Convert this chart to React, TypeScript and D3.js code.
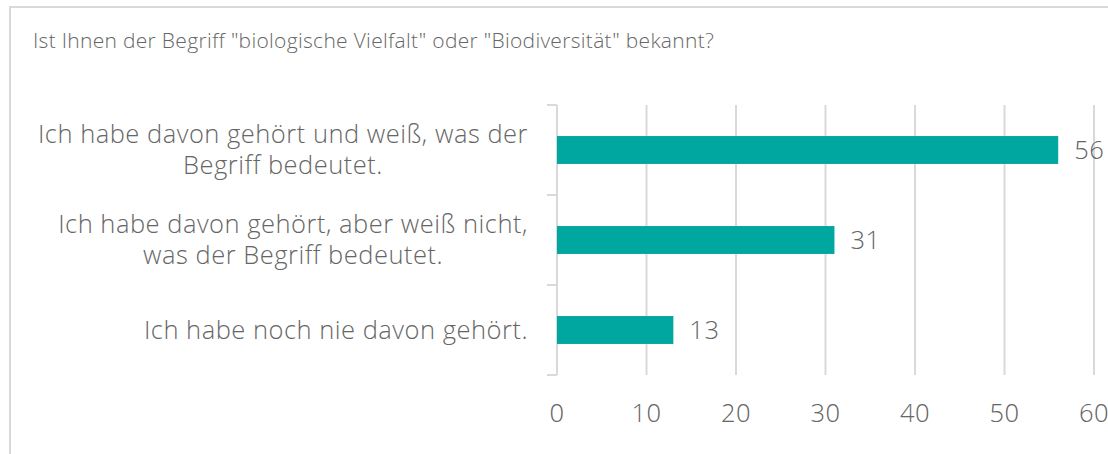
import React, { useEffect, useRef } from "react";
import * as d3 from "d3";

const title = 'Ist Ihnen der Begriff "biologische Vielfalt" oder "Biodiversität" bekannt?';
const categories = [
  ["Ich habe davon gehört und weiß, was der", "Begriff bedeutet."],
  ["Ich habe davon gehört, aber weiß nicht,", "was der Begriff bedeutet."],
  ["Ich habe noch nie davon gehört."],
];
const values = [56, 31, 13];
const ticks = [0, 10, 20, 30, 40, 50, 60];

const FONT = "'Open Sans Light', 'Open Sans', sans-serif";
const TEXT = "#666666";
const GRID = "#d9d9d9";
const BAR = "#00a6a0";

function App() {
  const ref = useRef<SVGSVGElement>(null);

  useEffect(() => {
    const svg = d3.select(ref.current);
    svg.selectAll("*").remove();

    const left = 557, right = 1094, top = 105, bottom = 375;
    const x = d3.scaleLinear().domain([0, 60]).range([left, right]);
    const keys = categories.map((c, i) => String(i));
    const y = d3.scaleBand().domain(keys).range([top, bottom]).paddingInner(0.69).paddingOuter(0.345);

    // chart frame
    svg.append("rect")
      .attr("x", 10).attr("y", 7).attr("width", 1300).attr("height", 600)
      .attr("fill", "white").attr("stroke", GRID).attr("stroke-width", 2);

    svg.append("text")
      .attr("x", 33).attr("y", 48)
      .attr("font-family", FONT).attr("font-weight", 300).attr("font-size", 21)
      .attr("letter-spacing", 0.3)
      .attr("fill", TEXT)
      .text(title);

    // vertical gridlines
    svg.selectAll(".grid")
      .data(ticks.slice(1))
      .enter().append("line")
      .attr("x1", d => x(d)).attr("x2", d => x(d))
      .attr("y1", top).attr("y2", bottom)
      .attr("stroke", GRID).attr("stroke-width", 2);

    // category axis with ticks on band borders
    svg.append("line")
      .attr("x1", left).attr("x2", left).attr("y1", top).attr("y2", bottom)
      .attr("stroke", GRID).attr("stroke-width", 2);
    const borders = d3.range(categories.length + 1).map(i => top + i * y.step());
    svg.selectAll(".ytick")
      .data(borders)
      .enter().append("line")
      .attr("x1", left - 10).attr("x2", left)
      .attr("y1", d => d).attr("y2", d => d)
      .attr("stroke", GRID).attr("stroke-width", 2);

    // bars
    svg.selectAll(".bar")
      .data(values)
      .enter().append("rect")
      .attr("x", x(0))
      .attr("y", (d, i) => y(String(i)) as number)
      .attr("width", d => x(d) - x(0))
      .attr("height", y.bandwidth())
      .attr("fill", BAR);

    // value labels
    svg.selectAll(".val")
      .data(values)
      .enter().append("text")
      .attr("x", d => x(d) + 16)
      .attr("y", (d, i) => (y(String(i)) as number) + y.bandwidth() / 2)
      .attr("dy", "0.35em")
      .attr("font-family", FONT).attr("font-weight", 300).attr("font-size", 25.5)
      .attr("letter-spacing", 0.5)
      .attr("fill", TEXT)
      .text(d => d);

    // x tick labels
    svg.selectAll(".xt")
      .data(ticks)
      .enter().append("text")
      .attr("x", d => x(d))
      .attr("y", 413)
      .attr("dy", "0.35em")
      .attr("text-anchor", "middle")
      .attr("font-family", FONT).attr("font-weight", 300).attr("font-size", 25.5)
      .attr("letter-spacing", 0.5)
      .attr("fill", TEXT)
      .text(d => d);

    // category labels: block right-aligned, lines centered
    const labelRight = 528, lineH = 31;
    categories.forEach((lines, i) => {
      const cy = (y(String(i)) as number) + y.bandwidth() / 2;
      const g = svg.append("g");
      const texts = lines.map((line, j) =>
        g.append("text")
          .attr("y", cy + (j - (lines.length - 1) / 2) * lineH)
          .attr("dy", "0.35em")
          .attr("text-anchor", "middle")
          .attr("font-family", FONT).attr("font-weight", 300).attr("font-size", 25.5)
          .attr("letter-spacing", 0.5)
          .attr("fill", TEXT)
          .text(line)
      );
      const maxW = d3.max(texts, t => (t.node() as SVGTextElement).getComputedTextLength()) || 0;
      texts.forEach(t => t.attr("x", labelRight - maxW / 2));
    });
  }, []);

  return (
    <svg ref={ref} width={1108} height={454}
      style={{ position: "absolute", left: 0, top: 0, background: "white" }} />
  );
}

export default App;
